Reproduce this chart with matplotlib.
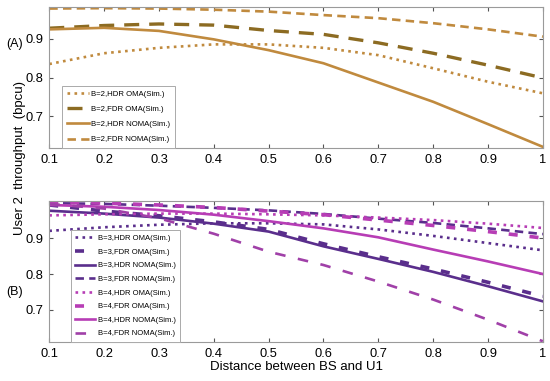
import numpy as np
import matplotlib
matplotlib.use("Agg")
import matplotlib.pyplot as plt

dist = [0.1, 0.2, 0.3, 0.4, 0.5, 0.6, 0.7, 0.8, 0.9, 1.0]

# (A) B=2
b2_hdr_oma = [0.835, 0.863, 0.877, 0.886, 0.886, 0.877, 0.858, 0.824, 0.789, 0.759]
b2_fdr_oma = [0.928, 0.935, 0.939, 0.936, 0.922, 0.912, 0.890, 0.863, 0.832, 0.799]
b2_hdr_noma = [0.925, 0.929, 0.921, 0.899, 0.871, 0.837, 0.787, 0.737, 0.679, 0.620]
b2_fdr_noma = [0.979, 0.980, 0.979, 0.976, 0.971, 0.962, 0.954, 0.941, 0.925, 0.906]

# (B) B=3 and B=4
b3_hdr_oma = [0.920, 0.930, 0.937, 0.941, 0.941, 0.938, 0.924, 0.906, 0.886, 0.866]
b3_fdr_oma = [0.992, 0.975, 0.962, 0.945, 0.924, 0.884, 0.848, 0.814, 0.777, 0.738]
b3_hdr_noma = [0.976, 0.968, 0.957, 0.940, 0.918, 0.877, 0.842, 0.806, 0.766, 0.724]
b3_fdr_noma = [0.997, 0.995, 0.990, 0.984, 0.977, 0.967, 0.954, 0.942, 0.927, 0.911]
b4_hdr_oma = [0.963, 0.966, 0.968, 0.968, 0.966, 0.963, 0.957, 0.950, 0.940, 0.928]
b4_fdr_oma = [1.000, 0.997, 0.992, 0.985, 0.975, 0.965, 0.950, 0.935, 0.918, 0.900]
b4_hdr_noma = [0.992, 0.987, 0.978, 0.965, 0.947, 0.927, 0.902, 0.868, 0.835, 0.800]
b4_fdr_noma = [0.995, 0.982, 0.955, 0.912, 0.862, 0.825, 0.779, 0.729, 0.673, 0.613]

xticks = [0.1, 0.2, 0.3, 0.4, 0.5, 0.6, 0.7, 0.8, 0.9, 1]
xticklabels = ["0.1", "0.2", "0.3", "0.4", "0.5", "0.6", "0.7", "0.8", "0.9", "1"]

plt.rcParams['font.family'] = ['Liberation Sans', 'DejaVu Sans']

brown = '#C08A3E'
olive = '#8C6B22'
purple = '#5A2E8C'
magenta = '#B73DB5'
violet = '#A040A8'

fig = plt.figure(figsize=(5.5, 3.81), dpi=100)
axA = fig.add_axes([0.0896, 0.6115, 0.8974, 0.3701])
axB = fig.add_axes([0.0896, 0.1024, 0.8974, 0.3700])


def style_axes(ax, ylim):
    ax.set_xlim(0.1, 1)
    ax.set_ylim(*ylim)
    ax.set_xticks(xticks)
    ax.set_xticklabels(xticklabels)
    ax.set_yticks([0.7, 0.8, 0.9])
    ax.tick_params(direction='in', top=True, right=True, labelsize=9.3,
                   length=3, color='#555555', pad=4)
    for s in ax.spines.values():
        s.set_color('#9a9a9a')
        s.set_linewidth(0.8)


axA.plot(dist, b2_hdr_oma, ':', color=brown, lw=1.9, label='B=2,HDR OMA(Sim.)')
axA.plot(dist, b2_fdr_oma, color=olive, lw=2.4, dashes=(4.5, 3), label='B=2,FDR OMA(Sim.)')
axA.plot(dist, b2_hdr_noma, '-', color=brown, lw=1.9, label='B=2,HDR NOMA(Sim.)')
axA.plot(dist, b2_fdr_noma, color=brown, lw=1.9, dashes=(3.2, 2), label='B=2,FDR NOMA(Sim.)')
style_axes(axA, (0.617, 0.983))
legA = axA.legend(loc='lower left', bbox_to_anchor=(0.026, 0.0), borderaxespad=0,
                  fontsize=5.6, handlelength=2.8, handletextpad=0.35, borderpad=0.6,
                  labelspacing=1.0, fancybox=False, edgecolor='#aaaaaa', framealpha=1)
legA.get_frame().set_linewidth(0.7)

axB.plot(dist, b3_hdr_oma, ':', color=purple, lw=1.9, label='B=3,HDR OMA(Sim.)')
axB.plot(dist, b3_fdr_oma, color=purple, lw=2.6, dashes=(2.5, 3.3), label='B=3,FDR OMA(Sim.)')
axB.plot(dist, b3_hdr_noma, '-', color=purple, lw=1.9, label='B=3,HDR NOMA(Sim.)')
axB.plot(dist, b3_fdr_noma, color=purple, lw=1.9, dashes=(3.2, 2), label='B=3,FDR NOMA(Sim.)')
axB.plot(dist, b4_hdr_oma, ':', color=magenta, lw=1.9, label='B=4,HDR OMA(Sim.)')
axB.plot(dist, b4_fdr_oma, color=magenta, lw=2.6, dashes=(2.5, 3.3), label='B=4,FDR OMA(Sim.)')
axB.plot(dist, b4_hdr_noma, '-', color=magenta, lw=1.9, label='B=4,HDR NOMA(Sim.)')
axB.plot(dist, b4_fdr_noma, color=violet, lw=1.9, dashes=(4, 4.8), label='B=4,FDR NOMA(Sim.)')
style_axes(axB, (0.611, 1.003))
legB = axB.legend(loc='lower left', bbox_to_anchor=(0.043, 0.0), borderaxespad=0,
                  fontsize=5.5, handlelength=2.6, handletextpad=0.35, borderpad=0.6,
                  labelspacing=0.82, fancybox=False, edgecolor='#aaaaaa', framealpha=1)
legB.get_frame().set_linewidth(0.7)

axB.set_xlabel('Distance between BS and U1', fontsize=9.5, labelpad=1)
fig.text(0.037, 0.585, 'User 2  throughput  (bpcu)', rotation=90, fontsize=9.5,
         ha='center', va='center')
fig.text(0.027, 0.885, '(A)', fontsize=9, ha='center', va='center')
fig.text(0.027, 0.234, '(B)', fontsize=9, ha='center', va='center')

fig.savefig('out.png', dpi=100)
